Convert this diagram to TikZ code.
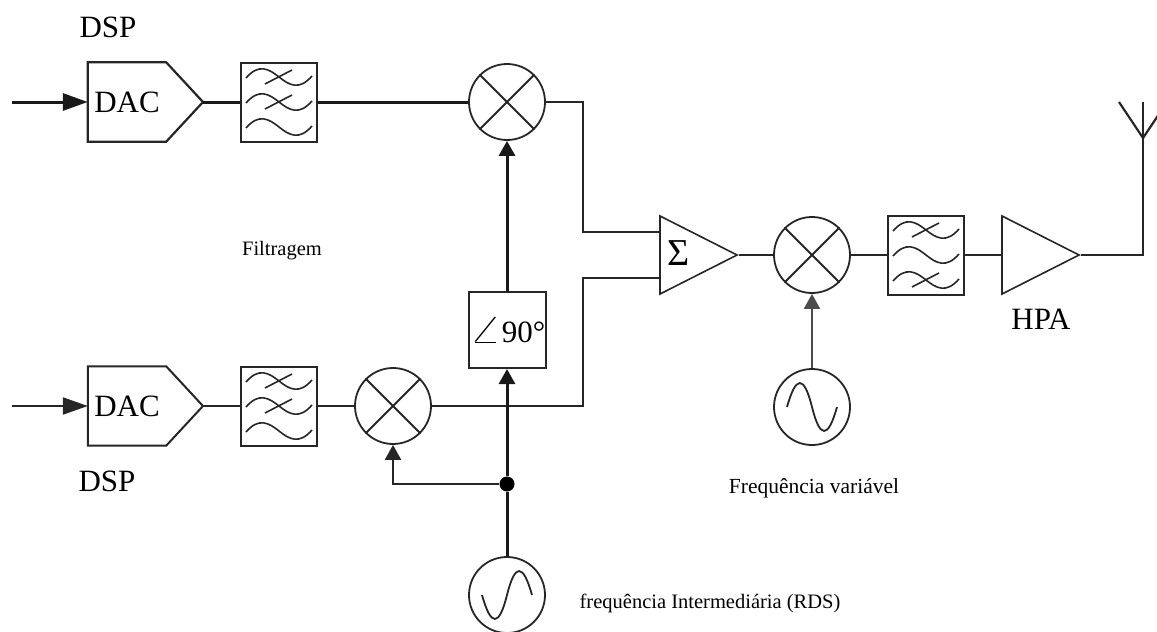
\documentclass[tikz,border=0pt]{standalone}
\usepackage{fontspec}
\setmainfont{Liberation Serif}
\usetikzlibrary{arrows.meta,shapes.geometric,calc}

\tikzset{
    wire/.style={draw=black!85, line width=2.2pt},
    heavy/.style={draw=black!90, line width=3pt},
    sidearrow/.style={-{Triangle[length=25pt,width=17pt]}},
    uparrow/.style={-{Triangle[length=15pt,width=16pt]}},
    filterbox/.style={draw=black!85, line width=2pt, fill=white, rectangle, inner sep=0, minimum width=76pt, minimum height=79pt},
    mixer/.style={draw=black!85, line width=1.8pt, fill=white, circle, inner sep=0, minimum size=76pt},
    osc/.style={draw=black!85, line width=1.8pt, fill=white, circle, inner sep=0, minimum size=76pt},
    amp/.style={draw=black!85, line width=1.6pt, fill=white, isosceles triangle, isosceles triangle stretches, inner sep=0, minimum width=78pt, minimum height=77pt},
    bigtext/.style={font=\fontsize{31}{33}\selectfont, inner sep=0},
    smalltext/.style={font=\fontsize{20.5}{23}\selectfont, inner sep=0},
    pics/wave/.style={code={
        \draw[line width=1.6pt, draw=black!85] (-33,1) .. controls (-20,-14) and (-10,-8) .. (0,0) .. controls (10,8) and (20,14) .. (33,-1);
    }},
    pics/crosswave/.style={code={
        \draw[line width=1.6pt, draw=black!85] (-33,1) .. controls (-20,-14) and (-10,-8) .. (0,0) .. controls (10,8) and (20,14) .. (33,-1);
        \draw[line width=1.6pt, draw=black!85] (-14,7) -- (13,-7);
    }},
    pics/sinewave/.style={code={
        \draw[line width=1.8pt, draw=black!85] (-25,0) .. controls (-16,32) and (-8,32) .. (0,0) .. controls (8,-32) and (16,-32) .. (25,0);
    }}
}

\begin{document}
\begin{tikzpicture}[x=1pt,y=-1pt]
        \useasboundingbox (0,0) rectangle (1157,632);

        % free ends
        \coordinate (ina) at (12,102);
        \coordinate (inb) at (12,406);
        \coordinate (cornera) at (583,102);
        \coordinate (cornerb) at (583,406);
        \coordinate (branch) at (393,484);
        \coordinate (corner) at (1143,255);
        \coordinate (anta) at (1143,138);
        \coordinate (antb) at (1143,102);
        \coordinate (antl) at (1119,102);
        \coordinate (antr) at (1167,102);

        % top row
        \node[bigtext, minimum width=78pt, minimum height=79pt] (daca) at (127,102) {DAC};
        \coordinate (tipa) at (203,102);
        \node[filterbox] (fila) at (279,102) {};
        \node[mixer] (mixa) at (507,102) {};

        % bottom row
        \node[bigtext, minimum width=78pt, minimum height=79pt] (dacb) at (127,406) {DAC};
        \coordinate (tipb) at (203,406);
        \node[filterbox] (filb) at (279,406) {};
        \node[mixer] (mixb) at (393,406) {};
        \node[draw=black!85, line width=2pt, fill=white, rectangle, inner sep=0, minimum width=77pt, minimum height=76pt, font=\fontsize{31}{33}\selectfont] (shift) at (507,330) {\scalebox{2.05}[1.3]{$\angle$}90°};
        \node[osc] (osca) at (507,595) {};
        \node[circle, fill=black, inner sep=0, minimum size=15pt] (dot) at (507,484) {};

        % right part
        \node[amp] (sum) at (684,255) {};
        \node[font=\fontsize{38}{40}\selectfont, inner sep=0] (sigma) at (679,253) {Σ};
        \node[mixer] (mixc) at (812,255) {};
        \node[filterbox] (filc) at (926,255) {};
        \node[amp] (hpa) at (1026,255) {};
        \node[osc] (oscb) at (812,407) {};

        % labels
        \node[bigtext] (dspa) at (108,27) {DSP};
        \node[bigtext] (dspb) at (107,481) {DSP};
        \node[bigtext] (hpatext) at (1041,319) {HPA};
        \node[smalltext] (filt) at (282,251) {Filtragem};
        \node[smalltext, font=\fontsize{21.5}{23}\selectfont] (freqv) at (814,488) {Frequência variável};
        \node[smalltext] (freqi) at (710,603) {frequência Intermediária (RDS)};

        % DAC outlines
        \draw [wire, line join=miter] (daca.north west) -- (daca.north east) -- (tipa) -- (daca.south east) -- (daca.south west) -- cycle;
        \draw [wire, line width=2pt] (dacb.north west) -- (dacb.north east) -- (tipb) -- (dacb.south east) -- (dacb.south west) -- cycle;

        % filter curves
        \pic at ($(fila)+(0,-25)$) {crosswave};
        \pic at ($(fila)+(0,0)$) {crosswave};
        \pic at ($(fila)+(0,25)$) {wave};
        \pic at ($(filb)+(0,-25)$) {crosswave};
        \pic at ($(filb)+(0,0)$) {crosswave};
        \pic at ($(filb)+(0,25)$) {wave};
        \pic at ($(filc)+(0,-25)$) {crosswave};
        \pic at ($(filc)+(0,0)$) {wave};
        \pic at ($(filc)+(0,25)$) {crosswave};

        % mixer crosses
        \foreach \m in {mixa,mixb,mixc} {
            \draw [line width=1.8pt, draw=black!85] (\m.45) -- (\m.225);
            \draw [line width=1.8pt, draw=black!85] (\m.135) -- (\m.315);
        }

        \pic at (osca) {sinewave};
        \pic[yscale=-1] at (oscb) {sinewave};

        % top row wires
        \draw [heavy, sidearrow] (ina) -- (daca.west);
        \draw [heavy] (tipa) -- (fila.west);
        \draw [heavy] (fila.east) -- (mixa.west);
        \draw [wire] (mixa.east) -- (cornera) |- ([yshift=23pt]sum.lower side);

        % bottom row wires
        \draw [wire, sidearrow] (inb) -- (dacb.west);
        \draw [wire] (tipb) -- (filb.west);
        \draw [wire] (filb.east) -- (mixb.west);
        \draw [wire] (mixb.east) -- (cornerb) |- ([yshift=-23pt]sum.lower side);

        % phase path
        \draw [heavy, uparrow] (shift.north) -- (mixa.south);
        \draw [heavy, uparrow] (dot) -- (shift.south);
        \draw [heavy] (osca.north) -- (dot);
        \draw [wire, uparrow] (dot) -- (branch) -- (mixb.south);

        % right part wires
        \draw [wire] (sum.apex) -- (mixc.west);
        \draw [wire] (mixc.east) -- (filc.west);
        \draw [wire] (filc.east) -- (hpa.lower side);
        \draw [wire] (hpa.apex) -- (corner) -- (antb);
        \draw [wire] (antl) -- (anta) -- (antr);
        \draw [wire, black!70, uparrow] (oscb.north) -- (mixc.south);
    \end{tikzpicture}
\end{document}
